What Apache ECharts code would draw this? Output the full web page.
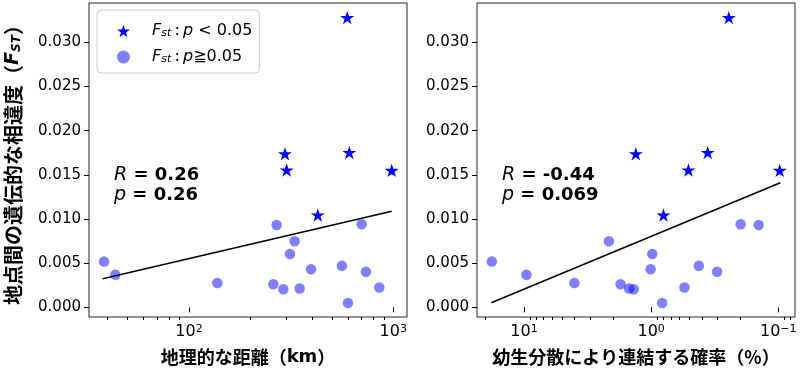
<!DOCTYPE html>
<html><head><meta charset="utf-8">
<script src="https://cdn.jsdelivr.net/npm/echarts@6/dist/echarts.min.js"></script>
<style>html,body{margin:0;padding:0;background:#fff}#c{width:800px;height:370px}</style>
</head><body><div id="c"></div>
<script>
// ---- data ----
// significant pairs (stars)
const fstSig   = [0.0328, 0.01738, 0.01554, 0.01752, 0.01550, 0.01045];
const distSig  = [595, 295, 300.6, 609, 982, 427];
const probSig  = [0.245, 1.32, 0.509, 0.359, 0.0975, 0.80];
// non-significant pairs (circles)
const fstNs    = [0.00517, 0.00368, 0.00275, 0.0026, 0.00932, 0.00205, 0.00603, 0.00748, 0.00213, 0.0043, 0.0047, 0.00049, 0.0094, 0.00403, 0.00224];
const distNs   = [38.4, 43.6, 137.6, 258.7, 268.4, 289.5, 312, 328.9, 348, 395.6, 560.5, 599.8, 700, 734.5, 854];
const probNs   = [17.9, 9.56, 4.01, 1.74, 0.1426, 1.37, 0.98, 2.15, 1.49, 1.01, 0.422, 0.82, 0.198, 0.303, 0.547];
// regression lines (end points)
const fitDistX = [37.8, 982];
const fitDistY = [0.00324, 0.01087];
const fitProbX = [18.1, 0.0964];
const fitProbY = [0.00052, 0.0141];
// tick values
const yTicks = [0, 0.005, 0.010, 0.015, 0.020, 0.025, 0.030];
const distMajor = [100, 1000];
const distMinor = [40, 50, 60, 70, 80, 90, 200, 300, 400, 500, 600, 700, 800, 900];
const probMajor = [10, 1, 0.1];
const probMinor = [20, 9, 8, 7, 6, 5, 4, 3, 2, 0.9, 0.8, 0.7, 0.6, 0.5, 0.4, 0.3, 0.2, 0.09, 0.08];
// annotation texts
const statsLeft  = {R: '0.26', p: '0.26'};
const statsRight = {R: '-0.44', p: '0.069'};
const xNameLeft  = '地理的な距離（{l|km}）';
const xNameRight = '幼生分散により連結する確率（%）';

// ---- chart ----
const STAR = 'path://M1,0L1.2245,0.691L1.9511,0.691L1.3633,1.118L1.5878,1.809L1,1.382L0.4122,1.809L0.6367,1.118L0.0489,0.691L0.7755,0.691Z';
const DV = "'DejaVu Sans', sans-serif";
const JP = "'Noto Sans CJK JP', sans-serif";
const pair = (xs, ys) => xs.map((x, i) => [x, ys[i]]);

function powLabel(v) {
  const e = Math.round(Math.log10(v));
  return '10{s|' + (e < 0 ? '\u2212' + (-e) : e) + '}';
}
const xLabel = (vals) => ({
  customValues: vals, formatter: powLabel, color: '#000', fontFamily: DV, fontSize: 16, margin: 7,
  rich: { s: { fontFamily: DV, fontSize: 11, verticalAlign: 'top', color: '#000' } }
});
const tickStyle = { color: '#000', width: 1 };

function xMain(grid, min, max, inverse, major, name) {
  return {
    gridIndex: grid, type: 'log', logBase: 10, min: min, max: max, inverse: inverse, position: 'bottom',
    axisLine: { show: false }, splitLine: { show: false },
    axisTick: { show: true, customValues: major, length: 5, lineStyle: tickStyle },
    axisLabel: xLabel(major),
    name: name, nameLocation: 'middle', nameGap: 31,
    nameTextStyle: { fontFamily: JP, fontWeight: 'bold', fontSize: 18, color: '#000',
      rich: { l: { fontFamily: DV, fontWeight: 'bold', fontSize: 18, color: '#000' } } }
  };
}
function xMinor(grid, min, max, inverse, minor) {
  return {
    gridIndex: grid, type: 'log', logBase: 10, min: min, max: max, inverse: inverse, position: 'bottom',
    axisLine: { show: false }, splitLine: { show: false },
    axisTick: { show: true, customValues: minor, length: 3, lineStyle: tickStyle },
    axisLabel: { show: false }
  };
}
function yAx(grid, withName) {
  const a = {
    gridIndex: grid, type: 'value', min: -0.0011, max: 0.03445,
    axisLine: { show: false }, splitLine: { show: false },
    axisTick: { show: true, customValues: yTicks, length: 5, lineStyle: tickStyle },
    axisLabel: { customValues: yTicks, formatter: v => v.toFixed(3), color: '#000', fontFamily: DV, fontSize: 15, margin: 8 }
  };
  if (withName) {
    a.name = '地点間の遺伝的な相違度（{i|F}{s|ST}）';
    a.nameLocation = 'middle';
    a.nameRotate = 90;
    a.nameGap = 66;
    a.nameTextStyle = {
      fontFamily: JP, fontWeight: 'bold', fontSize: 20, color: '#000',
      rich: {
        i: { fontFamily: DV, fontStyle: 'italic', fontSize: 19, color: '#000' },
        s: { fontFamily: DV, fontStyle: 'italic', fontSize: 12, color: '#000', verticalAlign: 'bottom', lineHeight: 11 }
      }
    };
  }
  return a;
}

function statText(st) {
  return '{r|R}{b| = ' + st.R + '}\n{r|p}{b| = ' + st.p + '}';
}
const statRich = {
  r: { fontFamily: DV, fontStyle: 'italic', fontSize: 19, color: '#000', lineHeight: 20 },
  b: { fontFamily: DV, fontWeight: 'bold', fontSize: 18, color: '#000', lineHeight: 20 }
};

const gridBase = { show: true, borderColor: '#222', borderWidth: 1, backgroundColor: 'transparent', containLabel: false, outerBoundsMode: 'none' };

const legendRich = {
  sp: { width: 17, fontSize: 16 },
  i: { fontFamily: DV, fontStyle: 'italic', fontSize: 16, color: '#000' },
  n: { fontFamily: DV, fontSize: 16, color: '#000' },
  s: { fontFamily: DV, fontStyle: 'italic', fontSize: 11, color: '#000', verticalAlign: 'bottom', lineHeight: 10 }
};

const circleStyle = { color: 'rgba(0,0,255,0.5)', opacity: 1 };
const starStyle = { color: '#0000ff', opacity: 1 };

const option = {
  animation: false,
  backgroundColor: '#fff',
  grid: [
    Object.assign({ left: 89, top: 3, width: 318, height: 314 }, gridBase),
    Object.assign({ left: 477, top: 3, width: 318, height: 314 }, gridBase)
  ],
  xAxis: [
    xMain(0, 32.4, 1167, false, distMajor, xNameLeft),
    xMinor(0, 32.4, 1167, false, distMinor),
    xMain(1, 0.0739, 23.43, true, probMajor, xNameRight),
    xMinor(1, 0.0739, 23.43, true, probMinor)
  ],
  yAxis: [yAx(0, true), yAx(1, false)],
  legend: {
    orient: 'vertical', left: 97, top: 10,
    padding: [13, 7, 8, 20], itemWidth: 13, itemHeight: 13, itemGap: 10,
    backgroundColor: '#fff', borderColor: '#cccccc', borderWidth: 1, borderRadius: 4,
    data: [{ name: 'sig', icon: STAR }, { name: 'ns', icon: 'circle' }],
    formatter: n => n === 'sig'
      ? '{sp| }{i|F}{s|st}{n|\u2009:\u2009}{i|p}{n| < 0.05}'
      : '{sp| }{i|F}{s|st}{n|\u2009:\u2009}{i|p}{n|≧0.05}',
    textStyle: { color: '#000', fontFamily: DV, fontSize: 16, rich: legendRich }
  },
  graphic: [
    { type: 'text', left: 114, top: 166, style: { text: statText(statsLeft), rich: statRich } },
    { type: 'text', left: 502, top: 166, style: { text: statText(statsRight), rich: statRich } }
  ],
  series: [
    { name: 'ns', type: 'scatter', xAxisIndex: 0, yAxisIndex: 0, data: pair(distNs, fstNs),
      symbol: 'circle', symbolSize: 10.5, itemStyle: circleStyle, z: 2 },
    { name: 'sig', type: 'scatter', xAxisIndex: 0, yAxisIndex: 0, data: pair(distSig, fstSig),
      symbol: STAR, symbolKeepAspect: true, symbolSize: 14, itemStyle: starStyle, z: 3 },
    { name: 'fit1', type: 'line', xAxisIndex: 0, yAxisIndex: 0, data: pair(fitDistX, fitDistY),
      symbol: 'none', lineStyle: { color: '#000', width: 1.6 }, z: 4 },
    { name: 'ns', type: 'scatter', xAxisIndex: 2, yAxisIndex: 1, data: pair(probNs, fstNs),
      symbol: 'circle', symbolSize: 10.5, itemStyle: circleStyle, z: 2 },
    { name: 'sig', type: 'scatter', xAxisIndex: 2, yAxisIndex: 1, data: pair(probSig, fstSig),
      symbol: STAR, symbolKeepAspect: true, symbolSize: 14, itemStyle: starStyle, z: 3 },
    { name: 'fit2', type: 'line', xAxisIndex: 2, yAxisIndex: 1, data: pair(fitProbX, fitProbY),
      symbol: 'none', lineStyle: { color: '#000', width: 1.6 }, z: 4 }
  ]
};
const chart = echarts.init(document.getElementById('c'), null, { renderer: 'canvas' });
chart.setOption(option);
</script>
</body></html>
